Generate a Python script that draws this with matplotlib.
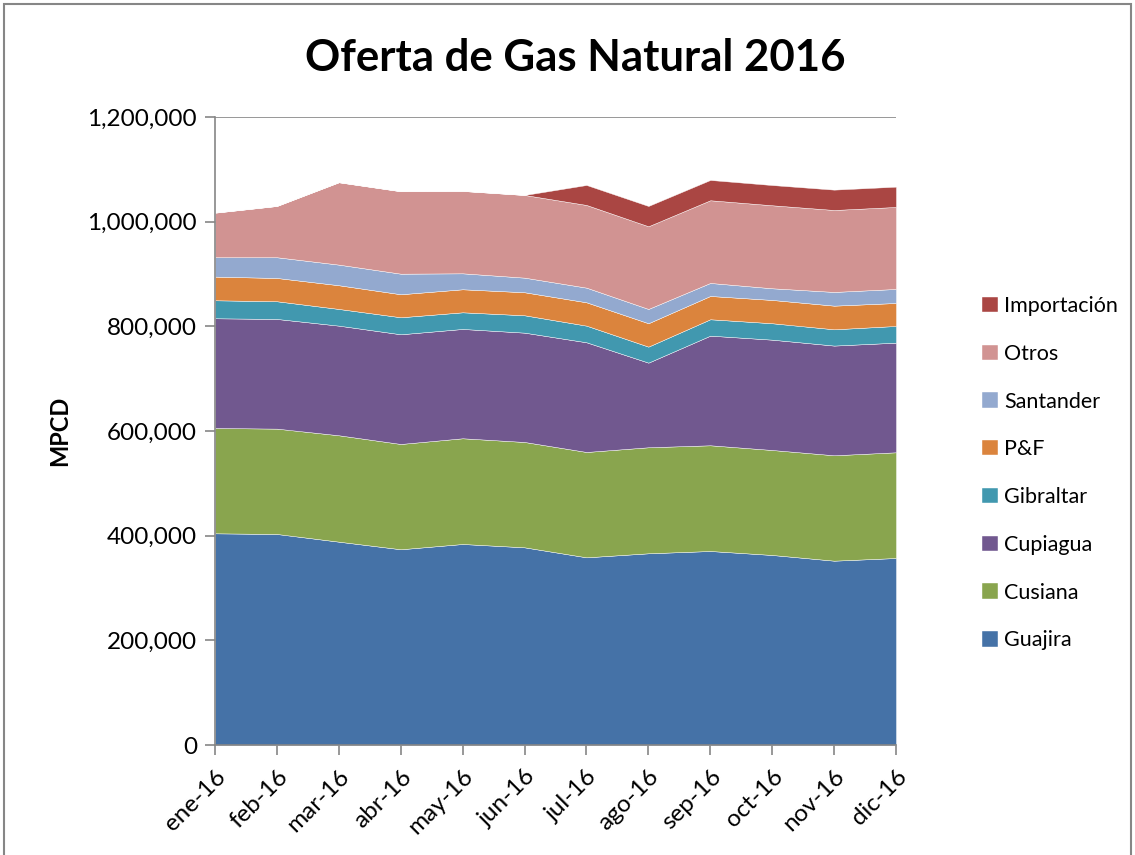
"""Oferta de Gas Natural 2016 - stacked area, Excel-style."""
import numpy as np
import matplotlib
matplotlib.use('Agg')
import matplotlib.pyplot as plt
from matplotlib.ticker import FuncFormatter

plt.rcParams['font.family'] = ['Lato', 'DejaVu Sans']

months = ['ene-16', 'feb-16', 'mar-16', 'abr-16', 'may-16', 'jun-16',
          'jul-16', 'ago-16', 'sep-16', 'oct-16', 'nov-16', 'dic-16']

guajira    = [404500, 403200, 388500, 374000, 384100, 377700, 358600, 366300, 370700, 363100, 352200, 357300]
cusiana    = [201300, 201300, 203300, 201200, 202000, 201300, 201300, 202600, 202000, 200600, 201400, 202000]
cupiagua   = [209600, 209600, 209500, 209600, 208900, 208900, 209600, 161700, 209500, 210800, 209600, 209500]
gibraltar  = [34400, 33800, 31900, 32500, 31800, 33200, 31800, 30600, 31300, 31400, 31100, 31900]
pyf        = [45200, 44500, 45300, 44000, 44000, 44000, 44600, 44700, 44500, 44500, 45200, 43900]
santander  = [37000, 39600, 39400, 39300, 30500, 27900, 28000, 27300, 24900, 22300, 26200, 26800]
otros      = [85200, 98000, 157400, 157500, 157400, 158000, 158000, 158000, 158000, 158600, 156600, 156700]
importacion = [0, 0, 0, 0, 0, 0, 38200, 38800, 38800, 38700, 38900, 38800]

series = [guajira, cusiana, cupiagua, gibraltar, pyf, santander, otros, importacion]
names = ['Guajira', 'Cusiana', 'Cupiagua', 'Gibraltar', 'P&F', 'Santander', 'Otros', 'Importación']
colors = ['#4572A7', '#89A54E', '#71588F', '#4198AF', '#DB843D', '#93A9CF', '#D19392', '#AA4643']

fig = plt.figure(figsize=(11.35, 8.55), dpi=100)
ax = fig.add_axes([215 / 1135, 110 / 855, 681 / 1135, 628 / 855])

x = np.arange(len(months))
ax.stackplot(x, *series, colors=colors, labels=names, zorder=2,
             edgecolor='white', linewidth=0.3)

grey = '#868686'
ax.set_xlim(0, len(months) - 1)
ax.set_ylim(0, 1200000)
ax.set_yticks(np.arange(0, 1200001, 200000))
ax.yaxis.set_major_formatter(FuncFormatter(lambda v, p: f'{v:,.0f}'))
ax.set_xticks(x)
ax.set_xticklabels(months, rotation=45, ha='right', rotation_mode='anchor')
ax.tick_params(axis='both', colors=grey, labelcolor='black', labelsize=17.5,
               length=7, width=1.2, direction='out')
ax.tick_params(axis='x', pad=8)
ax.tick_params(axis='y', pad=6)
ax.grid(axis='y', color=grey, lw=1.2, zorder=0)
ax.set_axisbelow(True)
for s in ('top', 'right'):
    ax.spines[s].set_visible(False)
for s in ('left', 'bottom'):
    ax.spines[s].set_color(grey)
    ax.spines[s].set_linewidth(1.2)
    ax.spines[s].set_zorder(3)

ax.set_ylabel('MPCD', fontsize=17, fontweight='bold', labelpad=12)
fig.text(575 / 1135, 1 - 58 / 855, 'Oferta de Gas Natural 2016', fontsize=31.5,
         fontweight='bold', ha='center', va='center')

handles, labels = ax.get_legend_handles_labels()
fig.legend(handles[::-1], labels[::-1], loc='upper left',
           bbox_to_anchor=(982 / 1135, 1 - 296 / 855), frameon=False,
           fontsize=15.5, handlelength=0.72, handleheight=0.72,
           handletextpad=0.3, labelspacing=1.29, borderpad=0, borderaxespad=0)

# outer chart frame
fig.add_artist(plt.Rectangle((4 / 1135, -0.01), 1127 / 1135, 1 - 4 / 855 + 0.01,
                             transform=fig.transFigure, fill=False,
                             edgecolor=grey, lw=1.5))

fig.savefig('out.png', dpi=100)
